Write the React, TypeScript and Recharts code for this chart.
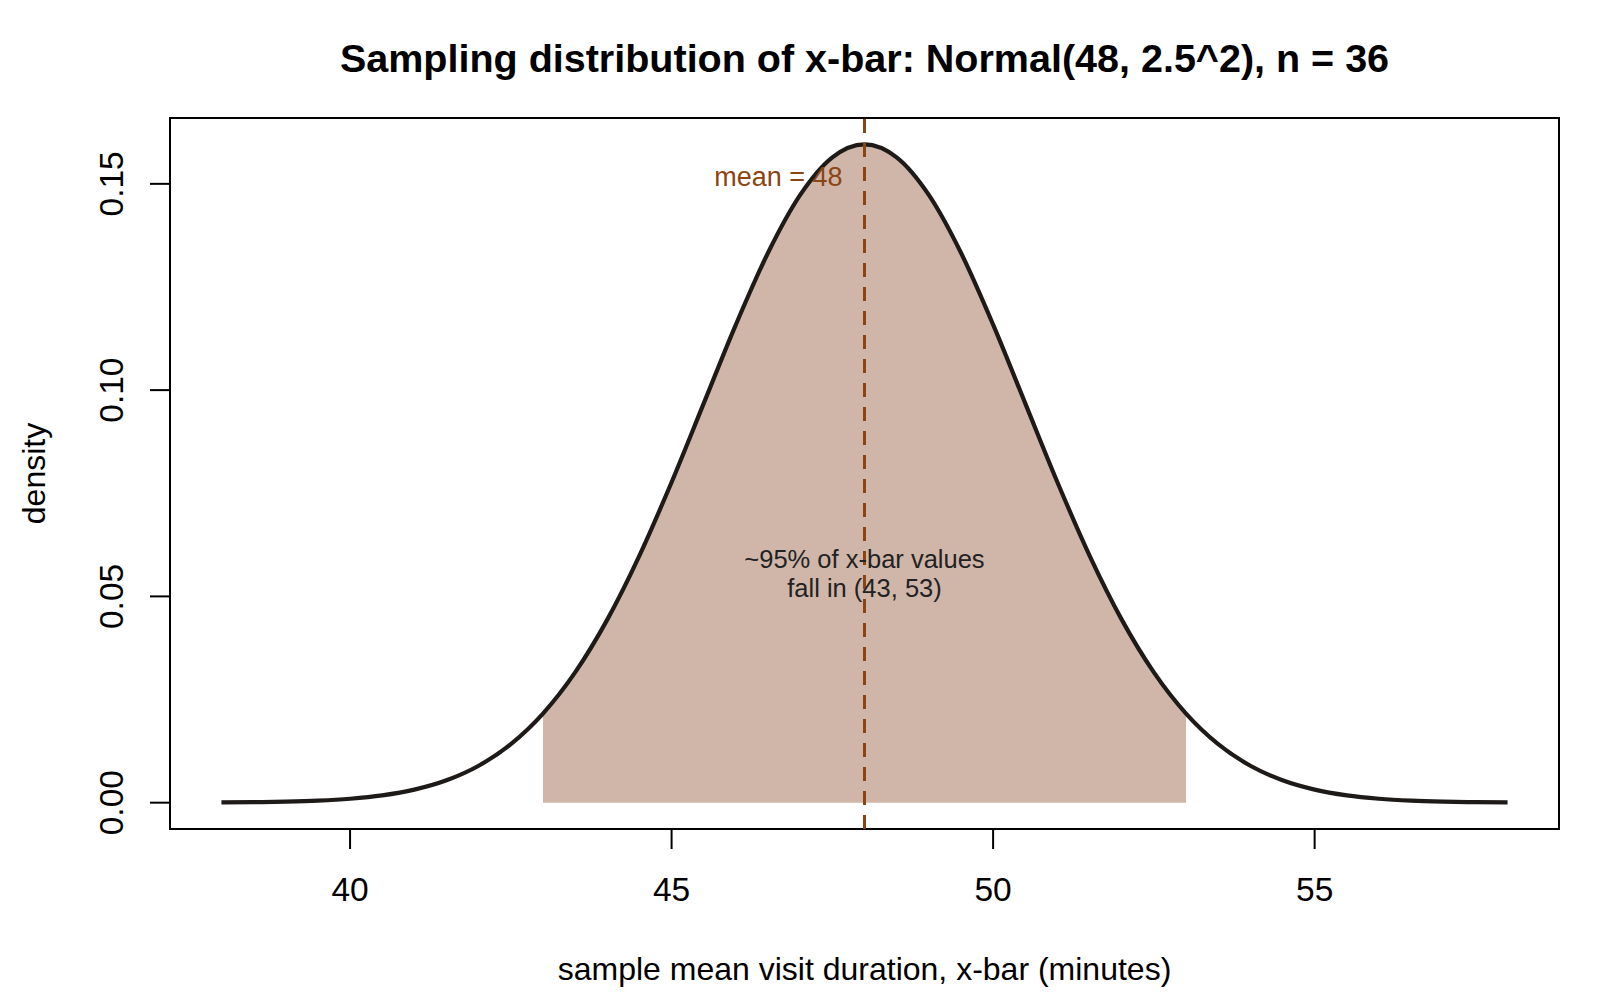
import React from 'react';
import {
  ComposedChart,
  Area,
  Line,
  XAxis,
  YAxis,
  ReferenceLine,
  ReferenceArea,
  ReferenceDot,
  Customized,
} from 'recharts';

// x-bar grid (minutes)
const xValues = [
  38, 38.5, 39, 39.5, 40, 40.5, 41, 41.5, 42, 42.5, 43, 43.5, 44, 44.5, 45, 45.5, 46, 46.5, 47, 47.5,
  48, 48.5, 49, 49.5, 50, 50.5, 51, 51.5, 52, 52.5, 53, 53.5, 54, 54.5, 55, 55.5, 56, 56.5, 57, 57.5, 58,
];
// density
const densityValues = [
  0.00005, 0.00012, 0.00025, 0.00049, 0.00095, 0.00177, 0.00317, 0.00543, 0.00896, 0.01419,
  0.0216, 0.03158, 0.04437, 0.05989, 0.07768, 0.09679, 0.11588, 0.13329, 0.14731, 0.15642,
  0.15958,
  0.15642, 0.14731, 0.13329, 0.11588, 0.09679, 0.07768, 0.05989, 0.04437, 0.03158, 0.0216,
  0.01419, 0.00896, 0.00543, 0.00317, 0.00177, 0.00095, 0.00049, 0.00025, 0.00012, 0.00005,
];
const shadeRange = [43, 53];
const meanValue = 48;
const xTicks = [40, 45, 50, 55];
const yTicks = [0, 0.05, 0.1, 0.15];
const xDomain = [37.2, 58.8];
const yDomain = [-0.00638, 0.16596];

const titleText = 'Sampling distribution of x-bar: Normal(48, 2.5^2), n = 36';
const xLabelText = 'sample mean visit duration, x-bar (minutes)';
const yLabelText = 'density';
const meanLabel = 'mean = 48';
const noteLines = ['~95% of x-bar values', 'fall in (43, 53)'];

const data = xValues.map((x, i) => ({
  x,
  density: densityValues[i],
  shade: x >= shadeRange[0] && x <= shadeRange[1] ? densityValues[i] : null,
}));

const FONT = '"Liberation Sans", Arial, Helvetica, sans-serif';

const XTick = (props: any) => {
  const { x, y, payload } = props;
  return (
    <text x={x} y={y + 52} textAnchor="middle" fontFamily={FONT} fontSize={33.5} fill="#000">
      {payload.value}
    </text>
  );
};

const YTick = (props: any) => {
  const { y, payload } = props;
  const tx = 123;
  return (
    <text
      x={tx}
      y={y}
      transform={`rotate(-90, ${tx}, ${y})`}
      textAnchor="middle"
      fontFamily={FONT}
      fontSize={33.5}
      fill="#000"
    >
      {Number(payload.value).toFixed(2)}
    </text>
  );
};

const Titles = () => (
  <g>
    <text x={864.5} y={72} textAnchor="middle" fontFamily={FONT} fontSize={39.5} fontWeight="bold" fill="#000">
      {titleText}
    </text>
    <text x={864.5} y={980} textAnchor="middle" fontFamily={FONT} fontSize={32} fill="#000">
      {xLabelText}
    </text>
    <text
      x={45}
      y={473.5}
      transform="rotate(-90, 45, 473.5)"
      textAnchor="middle"
      fontFamily={FONT}
      fontSize={32}
      fill="#000"
    >
      {yLabelText}
    </text>
  </g>
);

export default function App() {
  return (
    <div style={{ position: 'absolute', left: 0, top: 0, width: 1600, height: 1000, background: '#fff' }}>
      <ComposedChart
        width={1600}
        height={1000}
        data={data}
        margin={{ top: 118, right: 41, bottom: 71, left: 70 }}
      >
        <XAxis
          dataKey="x"
          type="number"
          domain={xDomain}
          ticks={xTicks}
          allowDataOverflow
          height={100}
          tickSize={20}
          tickMargin={0}
          axisLine={false}
          tickLine={{ stroke: '#000', strokeWidth: 2 }}
          tick={<XTick />}
        />
        <YAxis
          type="number"
          domain={yDomain}
          ticks={yTicks}
          allowDataOverflow
          width={100}
          tickSize={20}
          tickMargin={0}
          axisLine={false}
          tickLine={{ stroke: '#000', strokeWidth: 2 }}
          tick={<YTick />}
        />
        <Area
          dataKey="shade"
          type="monotone"
          baseValue={0}
          stroke="none"
          fill="#D0B6A9"
          fillOpacity={1}
          connectNulls={false}
          isAnimationActive={false}
          dot={false}
          activeDot={false}
        />
        <Line
          dataKey="density"
          type="monotone"
          stroke="#1e1a18"
          strokeWidth={4.2}
          dot={false}
          activeDot={false}
          isAnimationActive={false}
        />
        <ReferenceLine
          x={meanValue}
          stroke="#8B4513"
          strokeWidth={3}
          strokeDasharray="14 10"
          ifOverflow="visible"
        />
        <ReferenceDot
          x={meanValue}
          y={0.1517}
          r={0}
          isFront
          shape={(p: any) => (
            <text x={p.cx - 22} y={p.cy + 9.5} textAnchor="end" fontFamily={FONT} fontSize={27} fill="#8B4513">
              {meanLabel}
            </text>
          )}
        />
        <ReferenceDot
          x={meanValue}
          y={0.0556}
          r={0}
          isFront
          shape={(p: any) => (
            <text textAnchor="middle" fontFamily={FONT} fontSize={25.5} fill="#222">
              <tspan x={p.cx} y={p.cy - 5.5}>{noteLines[0]}</tspan>
              <tspan x={p.cx} y={p.cy + 24}>{noteLines[1]}</tspan>
            </text>
          )}
        />
        <ReferenceArea
          x1={xDomain[0]}
          x2={xDomain[1]}
          y1={yDomain[0]}
          y2={yDomain[1]}
          fill="none"
          fillOpacity={0}
          stroke="#000"
          strokeWidth={2}
          ifOverflow="visible"
        />
        <Customized component={Titles} />
      </ComposedChart>
    </div>
  );
}
